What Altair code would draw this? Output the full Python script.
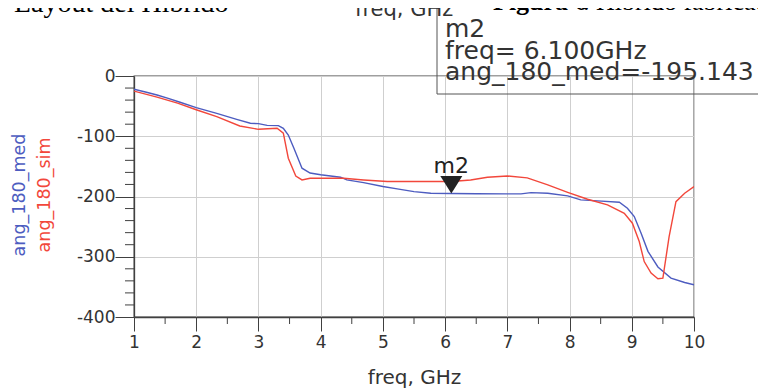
import altair as alt
import pandas as pd

# ---- data ----
med_freq = [1.0, 1.2, 1.37, 1.55, 1.74, 2.0, 2.33, 2.65, 2.87, 3.0, 3.14, 3.32, 3.40, 3.48,
            3.57, 3.70, 3.83, 4.0, 4.16, 4.32, 4.42, 4.69, 5.0, 5.23, 5.5, 5.77, 6.1, 6.5,
            7.0, 7.22, 7.38, 7.65, 7.97, 8.18, 8.45, 8.80, 8.93, 9.04, 9.15, 9.26, 9.42,
            9.63, 9.85, 10.0]
med_val = [-22, -27, -31.5, -37, -43.6, -52.5, -62, -72, -78.5, -79, -82, -82.4, -86.8, -98,
           -120, -153, -161, -164, -166, -168, -172.5, -177, -183.5, -187.4, -192, -194.6,
           -195.1, -195.5, -195.6, -195.6, -193.5, -194.6, -199, -205.6, -207.3, -209.5,
           -219.4, -233.3, -261, -291, -317, -335.5, -342.8, -346.6]

sim_freq = [1.0, 1.37, 1.7, 2.0, 2.33, 2.7, 3.0, 3.30, 3.40, 3.48, 3.60, 3.70, 3.83, 4.37,
            4.69, 5.07, 5.77, 6.1, 6.41, 6.68, 7.0, 7.32, 7.65, 7.97, 8.29, 8.61, 8.88, 9.01,
            9.12, 9.20, 9.31, 9.42, 9.50, 9.60, 9.71, 9.85, 10.0]
sim_val = [-25, -35, -45, -56, -67.5, -83, -88.5, -86.8, -95, -136.5, -166, -172.5, -169.7,
           -169.7, -172.5, -175, -175, -175, -172.5, -168, -166, -169, -180.8, -193, -204.5,
           -214, -227.8, -244.3, -274.8, -308, -327, -336.6, -335.5, -266.5, -208.5, -194.6,
           -183.5]

series_names = ["ang_180_med", "ang_180_sim"]
series_colors = ["#4d5cc0", "#f2473b"]

x_ticks = [1, 2, 3, 4, 5, 6, 7, 8, 9, 10]
x_minor = [1.5, 2.5, 3.5, 4.5, 5.5, 6.5, 7.5, 8.5, 9.5]
y_ticks = [0, -100, -200, -300, -400]
y_minor = [-20, -40, -60, -80, -120, -140, -160, -180, -220, -240, -260, -280,
           -320, -340, -360, -380]

marker_name = "m2"
marker_freq = 6.1
marker_val = -195.143

W, H = 560, 241
FONT = "DejaVu Sans"
TXT = "#333333"
FRAME = "#404040"

df = pd.concat([
    pd.DataFrame({"freq": med_freq, "value": med_val, "series": series_names[0]}),
    pd.DataFrame({"freq": sim_freq, "value": sim_val, "series": series_names[1]}),
])

xscale = alt.Scale(domain=[1, 10], nice=False, zero=False)
yscale = alt.Scale(domain=[-400, 0], nice=False, zero=False)
xaxis = alt.Axis(values=x_ticks, labelExpr="'' + datum.value", title="freq, GHz",
                 tickSize=14, labelPadding=3, labelFlush=False, labelOverlap=False,
                 titlePadding=17, grid=True, labelFontSize=17)
yaxis = alt.Axis(values=y_ticks, labelExpr="'' + datum.value", title=None, tickSize=19,
                 labelPadding=0, labelFlush=False, labelOverlap=False, grid=True,
                 labelFontSize=17)


def X(field="freq:Q"):
    return alt.X(field, scale=xscale, axis=xaxis)


def Y(field="value:Q"):
    return alt.Y(field, scale=yscale, axis=yaxis)


lines = alt.Chart(df).mark_line(strokeWidth=1.4, clip=True).encode(
    x=X(), y=Y(),
    color=alt.Color("series:N", scale=alt.Scale(domain=series_names, range=series_colors),
                    legend=None),
)

ymin = alt.Chart(pd.DataFrame({"value": y_minor})).mark_rule(color=FRAME, strokeWidth=1).encode(
    y=Y(), x=alt.value(-9), x2=alt.value(0))
xmin = alt.Chart(pd.DataFrame({"freq": x_minor})).mark_rule(color=FRAME, strokeWidth=1).encode(
    x=X(), y=alt.value(H), y2=alt.value(H + 7))

mk = pd.DataFrame({"freq": [marker_freq], "value": [marker_val], "name": [marker_name]})
tri = alt.Chart(mk).mark_point(shape="M-1,-1.6L1,-1.6L0,0Z", size=484, filled=True,
                               color="#222222", opacity=1, strokeWidth=0).encode(x=X(), y=Y())
mlabel = alt.Chart(mk).mark_text(dy=-28, fontSize=22, font=FONT, color="#222222").encode(
    x=X(), y=Y(), text="name:N")

one = pd.DataFrame({"a": [0]})
box = alt.Chart(one).mark_rect(fillOpacity=0, stroke="#555555", strokeWidth=1).encode(
    x=alt.value(303), x2=alt.value(720), y=alt.value(-90), y2=alt.value(18))

box_lines = [marker_name,
             f"freq= {marker_freq:.3f}GHz",
             f"{series_names[0]}={marker_val:.3f}"]
box_y = [-39, -17, 4]
box_texts = [
    alt.Chart(one).mark_text(text=t, align="left", baseline="alphabetic", fontSize=25,
                             font=FONT, color=TXT).encode(x=alt.value(311), y=alt.value(yy))
    for t, yy in zip(box_lines, box_y)
]

ytitles = [
    alt.Chart(one).mark_text(text=series_names[0], angle=270, align="center",
                             baseline="middle", fontSize=17.5, font=FONT,
                             color=series_colors[0]).encode(x=alt.value(-114), y=alt.value(119)),
    alt.Chart(one).mark_text(text=series_names[1], angle=270, align="center",
                             baseline="middle", fontSize=17.5, font=FONT,
                             color=series_colors[1]).encode(x=alt.value(-89), y=alt.value(119)),
]

# page fragments cut off at the top of the reference
frag = [
    alt.Chart(one).mark_text(text=". Layout del Híbrido", align="left", baseline="alphabetic",
                             fontSize=28, font="Liberation Serif", color="#000000").encode(
        x=alt.value(-134), y=alt.value(-64)),
    alt.Chart(one).mark_text(text="freq, GHz", align="left", baseline="alphabetic",
                             fontSize=21, font=FONT, color=TXT).encode(
        x=alt.value(221), y=alt.value(-60)),
    alt.Chart(one).mark_text(text="Figura 6", align="left", baseline="alphabetic",
                             fontSize=26, font="Liberation Serif", fontWeight="bold",
                             color="#000000").encode(x=alt.value(359), y=alt.value(-66)),
    alt.Chart(one).mark_text(text=". Híbrido fabricado", align="left", baseline="alphabetic",
                             fontSize=26, font="Liberation Serif",
                             color="#000000").encode(x=alt.value(449), y=alt.value(-66)),
]

chart = alt.layer(lines, ymin, xmin, tri, mlabel, box, *box_texts, *ytitles, *frag).properties(
    width=W, height=H,
    autosize=alt.AutoSizeParams(type="none"),
    padding={"left": 126, "top": 68, "right": 64, "bottom": 72},
).configure_view(
    stroke=FRAME, strokeWidth=1.3
).configure_axis(
    labelFont=FONT, labelFontSize=16, labelColor=TXT,
    titleFont=FONT, titleFontSize=20, titleFontWeight="normal", titleColor=TXT,
    tickColor=FRAME, tickWidth=1, domainColor=FRAME, domainWidth=1.3,
    gridColor="#cfcfcf", gridWidth=1,
)

chart.save("out.html", embed_options={"renderer": "svg", "actions": False})
